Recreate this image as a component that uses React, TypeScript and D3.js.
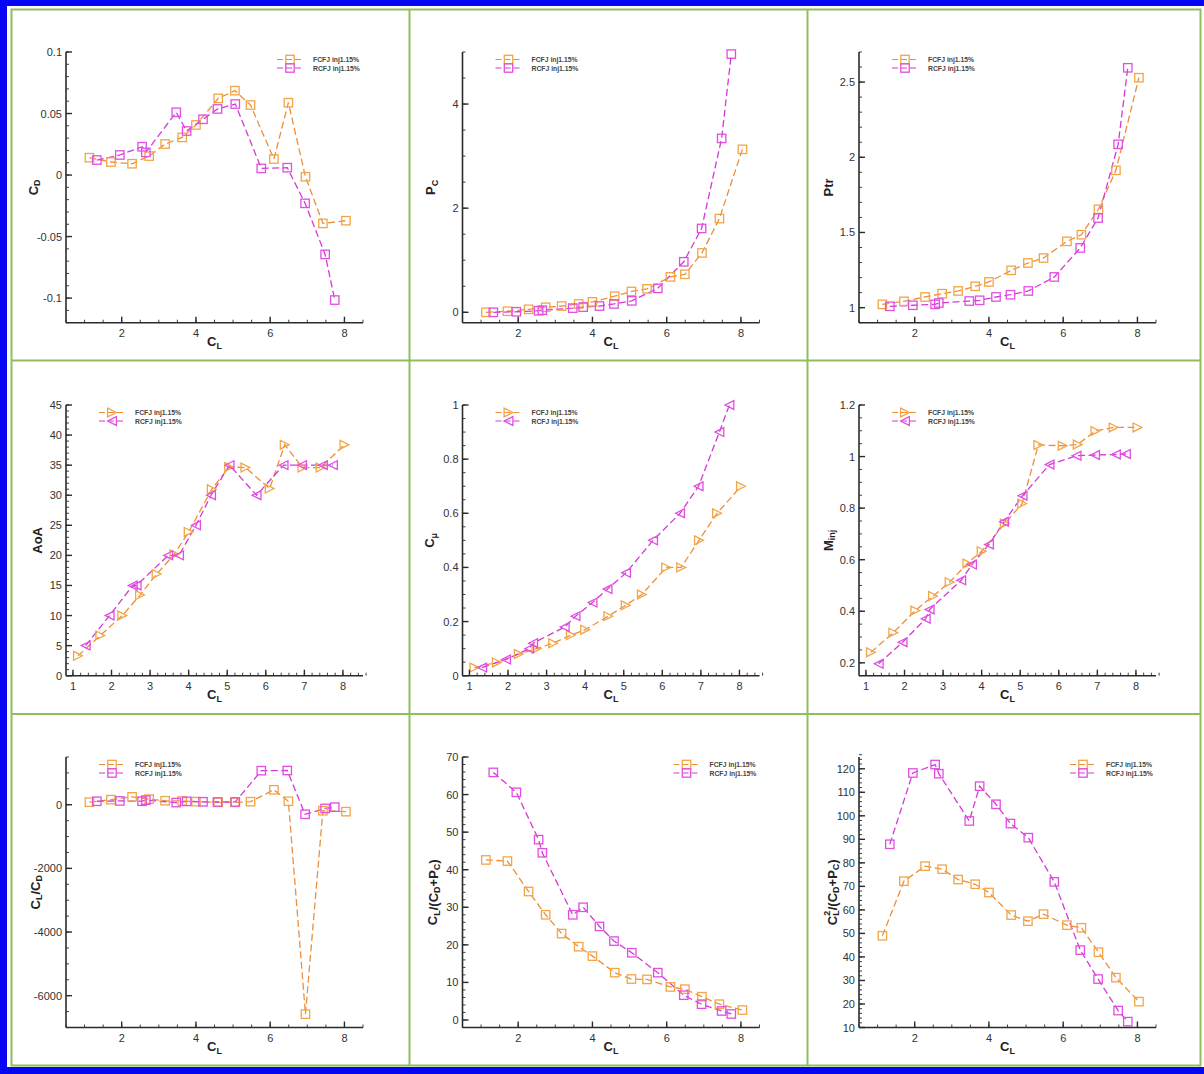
import React from "react";
import * as d3 from "d3";

// Lift coefficient at each run for both jet configurations
const clFCFJ = [1.13, 1.71, 2.28, 2.74, 3.17, 3.63, 4.0, 4.6, 5.05, 5.47, 6.1, 6.49, 6.95, 7.42, 8.04];
const clRCFJ = [1.33, 1.95, 2.55, 2.65, 3.47, 3.75, 4.19, 4.58, 5.06, 5.76, 6.46, 6.94, 7.48, 7.74];

const cdF = [0.0141, 0.0106, 0.0092, 0.0154, 0.0252, 0.0306, 0.0407, 0.0623, 0.0686, 0.0569, 0.013, 0.0588, -0.0014, -0.0393, -0.0371];
const cdR = [0.0122, 0.0163, 0.023, 0.0184, 0.051, 0.0358, 0.0453, 0.0537, 0.0577, 0.0054, 0.006, -0.023, -0.0645, -0.1016];
const pcF = [0.0, 0.02, 0.057, 0.096, 0.12, 0.16, 0.2, 0.31, 0.4, 0.45, 0.68, 0.73, 1.14, 1.8, 3.13];
const pcR = [0.0, 0.01, 0.03, 0.04, 0.08, 0.1, 0.12, 0.16, 0.22, 0.46, 0.97, 1.61, 3.34, 4.96];
const ptrF = [1.022, 1.042, 1.071, 1.093, 1.111, 1.142, 1.171, 1.248, 1.297, 1.33, 1.441, 1.485, 1.654, 1.913, 2.529];
const ptrR = [1.009, 1.016, 1.022, 1.031, 1.044, 1.049, 1.071, 1.086, 1.111, 1.204, 1.397, 1.596, 2.086, 2.595];
const aoaF = [3.3, 6.7, 10, 13.4, 16.9, 20.2, 23.9, 31, 34.7, 34.6, 31.1, 38.4, 34.6, 34.6, 38.4];
const aoaR = [5, 10, 15, 15, 20, 20, 25, 30, 35, 30, 35, 35, 35, 35];
const cmuF = [0.03, 0.049, 0.08, 0.1, 0.12, 0.15, 0.17, 0.22, 0.26, 0.3, 0.4, 0.4, 0.5, 0.6, 0.7];
const cmuR = [0.03, 0.06, 0.1, 0.12, 0.18, 0.22, 0.27, 0.32, 0.38, 0.5, 0.6, 0.7, 0.9, 1.0];
const minjF = [0.241, 0.317, 0.403, 0.459, 0.513, 0.585, 0.633, 0.74, 0.818, 1.045, 1.042, 1.047, 1.099, 1.113, 1.113];
const minjR = [0.196, 0.28, 0.371, 0.407, 0.52, 0.581, 0.659, 0.747, 0.848, 0.969, 1.003, 1.006, 1.008, 1.01];
const ldF = [80, 160, 248, 177, 126, 118, 98, 74, 74, 96, 469, 110, -6580, -188, -217];
const ldR = [109, 120, 111, 144, 68, 105, 93, 86, 88, 1070, 1075, -300, -116, -76];
const effF = [42.6, 42.3, 34.2, 28, 23, 19.5, 17, 12.6, 10.9, 10.8, 8.8, 8.2, 6.2, 4.2, 2.65];
const effR = [65.9, 60.6, 48, 44.5, 28, 30, 24.9, 21, 17.9, 12.6, 6.6, 4.2, 2.4, 1.6];
const eff2F = [49, 72.2, 78.6, 77.3, 72.9, 70.9, 67.4, 57.8, 55.2, 58.2, 53.5, 52.4, 42, 31.2, 21];
const eff2R = [87.9, 118.2, 121.8, 117.9, 97.8, 112.6, 104.9, 96.7, 90.7, 71.9, 42.9, 30.6, 17.2, 12.5];

const seriesNames = ["FCFJ inj1.15%", "RCFJ inj1.15%"];

// Tick values
const xTicksEven = [2, 4, 6, 8];
const xTicksAll = [1, 2, 3, 4, 5, 6, 7, 8];
const yTicksCd = [-0.1, -0.05, 0, 0.05, 0.1];
const yTicksPc = [0, 2, 4];
const yTicksPtr = [1, 1.5, 2, 2.5];
const yTicksAoa = [0, 5, 10, 15, 20, 25, 30, 35, 40, 45];
const yTicksCmu = [0, 0.2, 0.4, 0.6, 0.8, 1];
const yTicksMinj = [0.2, 0.4, 0.6, 0.8, 1, 1.2];
const yTicksLd = [-6000, -4000, -2000, 0];
const yTicksEff = [0, 10, 20, 30, 40, 50, 60, 70];
const yTicksEff2 = [10, 20, 30, 40, 50, 60, 70, 80, 90, 100, 110, 120];

const ORANGE_LINE = "#ec8f3c";
const ORANGE_MARK = "#f3a545";
const MAGENTA_LINE = "#d43ad4";
const MAGENTA_MARK = "#e24de2";
const AXIS = "#2b2b2b";
const FONT = "'Liberation Sans', Arial, sans-serif";

const colLeft = [66, 462.5, 859];
const rowTop = [52, 405, 757];
const rowBottom = [322.7, 675.7, 1027.5];
const plotW = 297;

type Shape = "square" | "tri";

interface PanelCfg {
  col: number;
  row: number;
  xDomain: [number, number];
  yDomain: [number, number];
  xTicks: number[];
  xMinor: number;
  yTicks: number[];
  yMinor: number;
  yF: number[];
  yR: number[];
  shape: Shape;
  legendRight: boolean;
  title: React.ReactNode;
  titleDx: number;
}

const SUB = 9;

const panels: PanelCfg[] = [
  {
    col: 0, row: 0, xDomain: [0.5, 8.5], yDomain: [-0.12, 0.1], xTicks: xTicksEven, xMinor: 0.5,
    yTicks: yTicksCd, yMinor: 0.01, yF: cdF, yR: cdR, shape: "square", legendRight: true,
    title: <>C<tspan dy={4} fontSize={SUB}>D</tspan></>, titleDx: -33,
  },
  {
    col: 1, row: 0, xDomain: [0.5, 8.5], yDomain: [-0.2, 5], xTicks: xTicksEven, xMinor: 0.5,
    yTicks: yTicksPc, yMinor: 0.5, yF: pcF, yR: pcR, shape: "square", legendRight: false,
    title: <>P<tspan dy={4} fontSize={SUB}>C</tspan></>, titleDx: -32,
  },
  {
    col: 2, row: 0, xDomain: [0.5, 8.5], yDomain: [0.9, 2.7], xTicks: xTicksEven, xMinor: 0.5,
    yTicks: yTicksPtr, yMinor: 0.1, yF: ptrF, yR: ptrR, shape: "square", legendRight: false,
    title: <>Ptr</>, titleDx: -31,
  },
  {
    col: 0, row: 1, xDomain: [0.82, 8.52], yDomain: [0, 45], xTicks: xTicksAll, xMinor: 0.2,
    yTicks: yTicksAoa, yMinor: 1, yF: aoaF, yR: aoaR, shape: "tri", legendRight: false,
    title: <>AoA</>, titleDx: -29,
  },
  {
    col: 1, row: 1, xDomain: [0.82, 8.52], yDomain: [0, 1], xTicks: xTicksAll, xMinor: 0.2,
    yTicks: yTicksCmu, yMinor: 0.05, yF: cmuF, yR: cmuR, shape: "tri", legendRight: false,
    title: <>C<tspan dy={4} fontSize={SUB}>{"\u03BC"}</tspan></>, titleDx: -33,
  },
  {
    col: 2, row: 1, xDomain: [0.82, 8.52], yDomain: [0.15, 1.2], xTicks: xTicksAll, xMinor: 0.2,
    yTicks: yTicksMinj, yMinor: 0.05, yF: minjF, yR: minjR, shape: "tri", legendRight: false,
    title: <>M<tspan dy={4} fontSize={SUB}>inj</tspan></>, titleDx: -31,
  },
  {
    col: 0, row: 2, xDomain: [0.5, 8.5], yDomain: [-7000, 1500], xTicks: xTicksEven, xMinor: 0.5,
    yTicks: yTicksLd, yMinor: 500, yF: ldF, yR: ldR, shape: "square", legendRight: false,
    title: (
      <>
        C<tspan dy={4} fontSize={SUB}>L</tspan>
        <tspan dy={-4}>/C</tspan>
        <tspan dy={4} fontSize={SUB}>D</tspan>
      </>
    ),
    titleDx: -31,
  },
  {
    col: 1, row: 2, xDomain: [0.5, 8.5], yDomain: [-2, 70], xTicks: xTicksEven, xMinor: 0.5,
    yTicks: yTicksEff, yMinor: 2, yF: effF, yR: effR, shape: "square", legendRight: true,
    title: (
      <>
        C<tspan dy={4} fontSize={SUB}>L</tspan>
        <tspan dy={-4}>/(C</tspan>
        <tspan dy={4} fontSize={SUB}>D</tspan>
        <tspan dy={-4}>+P</tspan>
        <tspan dy={4} fontSize={SUB}>C</tspan>
        <tspan dy={-4}>)</tspan>
      </>
    ),
    titleDx: -30,
  },
  {
    col: 2, row: 2, xDomain: [0.5, 8.5], yDomain: [10, 125], xTicks: xTicksEven, xMinor: 0.5,
    yTicks: yTicksEff2, yMinor: 2, yF: eff2F, yR: eff2R, shape: "square", legendRight: true,
    title: (
      <>
        C<tspan dy={-5} fontSize={SUB}>2</tspan>
        <tspan dx={-5} dy={9} fontSize={SUB}>L</tspan>
        <tspan dy={-4}>/(C</tspan>
        <tspan dy={4} fontSize={SUB}>D</tspan>
        <tspan dy={-4}>+P</tspan>
        <tspan dy={4} fontSize={SUB}>C</tspan>
        <tspan dy={-4}>)</tspan>
      </>
    ),
    titleDx: -27,
  },
];

function fmt(v: number): string {
  const r = Math.round(v * 1e6) / 1e6;
  return String(r);
}

function Marker({ shape, dir, x, y, color }: { shape: Shape; dir: number; x: number; y: number; color: string }) {
  if (shape === "square") {
    return <rect x={x - 4.2} y={y - 4.2} width={8.4} height={8.4} fill="none" stroke={color} strokeWidth={1.3} />;
  }
  const s = 4.4;
  const d = dir > 0
    ? `M${x - s},${y - s}L${x + s},${y}L${x - s},${y + s}Z`
    : `M${x + s},${y - s}L${x - s},${y}L${x + s},${y + s}Z`;
  return <path d={d} fill="none" stroke={color} strokeWidth={1.3} strokeLinejoin="miter" />;
}

function range(a: number, b: number, step: number): number[] {
  const out: number[] = [];
  const n = Math.round((b - a) / step);
  for (let i = 0; i <= n; i++) out.push(a + i * step);
  return out;
}

function Panel({ cfg }: { cfg: PanelCfg }) {
  const left = colLeft[cfg.col];
  const right = left + plotW;
  const top = rowTop[cfg.row];
  const bottom = rowBottom[cfg.row];
  const x = d3.scaleLinear().domain(cfg.xDomain).range([left, right]);
  const y = d3.scaleLinear().domain(cfg.yDomain).range([bottom, top]);

  const xMinorTicks = range(Math.ceil(cfg.xDomain[0] / cfg.xMinor) * cfg.xMinor, cfg.xDomain[1], cfg.xMinor);
  const yMinorTicks = range(Math.ceil(cfg.yDomain[0] / cfg.yMinor - 1e-9) * cfg.yMinor, cfg.yDomain[1], cfg.yMinor);

  const line = d3.line<[number, number]>().x((d) => x(d[0])).y((d) => y(d[1]));
  const ptsF: [number, number][] = clFCFJ.map((c, i) => [c, cfg.yF[i]]);
  const ptsR: [number, number][] = clRCFJ.map((c, i) => [c, cfg.yR[i]]);

  const legX = cfg.legendRight ? left + 211 : left + 33;
  const legY = top + 7.5;

  return (
    <g>
      {/* series lines */}
      <path d={line(ptsF) || ""} fill="none" stroke={ORANGE_LINE} strokeWidth={1.3} strokeDasharray="7,3.5" />
      <path d={line(ptsR) || ""} fill="none" stroke={MAGENTA_LINE} strokeWidth={1.3} strokeDasharray="7,3.5" />
      {ptsF.map((p, i) => (
        <Marker key={"f" + i} shape={cfg.shape} dir={1} x={x(p[0])} y={y(p[1])} color={ORANGE_MARK} />
      ))}
      {ptsR.map((p, i) => (
        <Marker key={"r" + i} shape={cfg.shape} dir={-1} x={x(p[0])} y={y(p[1])} color={MAGENTA_MARK} />
      ))}

      {/* axes */}
      <line x1={left} x2={right} y1={bottom} y2={bottom} stroke={AXIS} strokeWidth={1.6} />
      <line x1={left} x2={left} y1={top} y2={bottom} stroke={AXIS} strokeWidth={1.6} />
      {xMinorTicks.map((t, i) => (
        <line key={"xm" + i} x1={x(t)} x2={x(t)} y1={bottom} y2={bottom - 3} stroke={AXIS} strokeWidth={0.9} />
      ))}
      {yMinorTicks.map((t, i) => (
        <line key={"ym" + i} x1={left} x2={left + 3} y1={y(t)} y2={y(t)} stroke={AXIS} strokeWidth={0.9} />
      ))}
      {cfg.xTicks.map((t) => (
        <g key={"xt" + t}>
          <line x1={x(t)} x2={x(t)} y1={bottom} y2={bottom - 6} stroke={AXIS} strokeWidth={1.4} />
          <text x={x(t)} y={bottom + 10.5} textAnchor="middle" dominantBaseline="central" fontSize={11} fill="#333" fontFamily={FONT}>
            {fmt(t)}
          </text>
        </g>
      ))}
      {cfg.yTicks.map((t) => (
        <g key={"yt" + t}>
          <line x1={left} x2={left + 6} y1={y(t)} y2={y(t)} stroke={AXIS} strokeWidth={1.4} />
          <text x={left - 4} y={y(t)} textAnchor="end" dominantBaseline="central" fontSize={11} fill="#333" fontFamily={FONT}>
            {fmt(t)}
          </text>
        </g>
      ))}

      {/* axis titles */}
      <text x={(left + right) / 2} y={bottom + 19} textAnchor="middle" dominantBaseline="central" fontSize={13} fontWeight="bold" fill="#222" fontFamily={FONT}>
        C<tspan dy={4} fontSize={SUB}>L</tspan>
      </text>
      <text
        transform={`translate(${left + cfg.titleDx},${(top + bottom) / 2}) rotate(-90)`}
        textAnchor="middle"
        dominantBaseline="central"
        fontSize={13}
        fontWeight="bold"
        fill="#222"
        fontFamily={FONT}
      >
        {cfg.title}
      </text>

      {/* legend */}
      {seriesNames.map((name, i) => {
        const ly = legY + i * 8.5;
        const col = i === 0 ? ORANGE_LINE : MAGENTA_LINE;
        const mk = i === 0 ? ORANGE_MARK : MAGENTA_MARK;
        return (
          <g key={name}>
            <line x1={legX} x2={legX + 26} y1={ly} y2={ly} stroke={col} strokeWidth={1.2} strokeDasharray="6,3" />
            <Marker shape={cfg.shape} dir={i === 0 ? 1 : -1} x={legX + 13} y={ly} color={mk} />
            <text x={legX + 36} y={ly} dominantBaseline="central" fontSize={6.8} fontWeight="bold" fill="#444" fontFamily={FONT}>
              {name}
            </text>
          </g>
        );
      })}
    </g>
  );
}

export default function App() {
  const green = "#8fbe5e";
  return (
    <svg
      width={1204}
      height={1074}
      viewBox="0 0 1204 1074"
      style={{ position: "absolute", left: 0, top: 0, display: "block" }}
    >
      <rect x={0} y={0} width={1204} height={1074} fill="#0606f2" />
      <rect x={7} y={6} width={1197} height={1061} fill="#ffffff" />
      {/* panel frame */}
      <rect x={11.5} y={9.5} width={1189} height={1056} fill="none" stroke={green} strokeWidth={2} />
      <line x1={409.5} x2={409.5} y1={9.5} y2={1065.5} stroke={green} strokeWidth={2} />
      <line x1={807.5} x2={807.5} y1={9.5} y2={1065.5} stroke={green} strokeWidth={2} />
      <line x1={11.5} x2={1200.5} y1={360.5} y2={360.5} stroke={green} strokeWidth={2} />
      <line x1={11.5} x2={1200.5} y1={714} y2={714} stroke={green} strokeWidth={2} />
      {panels.map((p, i) => (
        <Panel key={i} cfg={p} />
      ))}
    </svg>
  );
}
